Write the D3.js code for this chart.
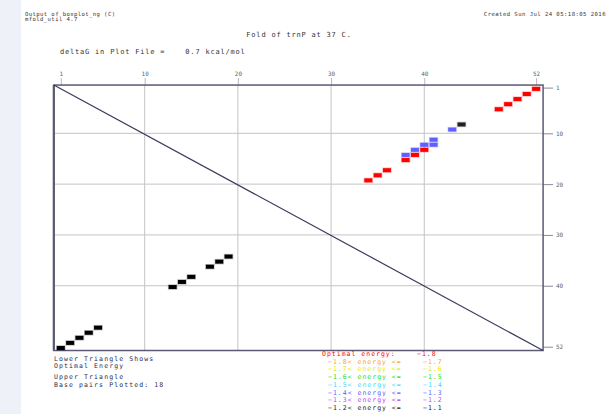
<!DOCTYPE html>
<html>
<head>
<meta charset="utf-8">
<script src="https://cdn.jsdelivr.net/npm/d3@7"></script>
<style>
  html, body { margin: 0; padding: 0; background: #ffffff; }
  svg { display: block; }
  text { font-family: "DejaVu Sans Mono", "Liberation Mono", monospace; }
</style>
</head>
<body>
<svg id="plot" width="610" height="414"></svg>
<script>
// Energy dot plot of trnP (52 nt)
const seqLength = 52;
const xTickValues = [1, 10, 20, 30, 40, 52];
const yTickValues = [1, 10, 20, 30, 40, 52];
const gridValues = [10, 20, 30, 40];

// Lower triangle: optimal structure base pairs (i, j)
const optI = [1, 2, 3, 4, 5, 13, 14, 15, 17, 18, 19];
const optJ = [52, 51, 50, 49, 48, 40, 39, 38, 36, 35, 34];

// Upper triangle: all base pairs within the energy increment, with their best energy
const subI = [1, 2, 3, 4, 5, 8, 9, 11, 12, 12, 13, 13, 14, 14, 15, 17, 18, 19];
const subJ = [52, 51, 50, 49, 48, 44, 43, 41, 41, 40, 40, 39, 39, 38, 38, 36, 35, 34];
const subEnergy = [-1.8, -1.8, -1.8, -1.8, -1.8, -1.1, -1.3, -1.3, -1.3, -1.3, -1.8, -1.3, -1.8, -1.3, -1.8, -1.8, -1.8, -1.8];

// Energy legend
const levelBounds = [-1.8, -1.7, -1.6, -1.5, -1.4, -1.3, -1.2, -1.1];
const levelColors = ["#ff0000", "#ffa020", "#e8e800", "#20e020", "#40d8ff", "#6060ff", "#c040ff", "#222222"];

const headerLeft = ["Output of boxplot_ng (C)", "mfold_util 4.7"];
const headerRight = "Created Sun Jul 24 05:18:05 2016";
const titleText = "Fold of trnP at 37 C.";
const deltaText = "deltaG in Plot File =    0.7 kcal/mol";
const noteLines = ["Lower Triangle Shows", "Optimal Energy", "Upper Triangle", "Base pairs Plotted: 18"];

const svg = d3.select("#plot");

// side band
svg.append("rect").attr("x", 0).attr("y", 0).attr("width", 21).attr("height", 414).attr("fill", "#eef1f8");

const x = d3.scaleLinear().domain([1, seqLength]).range([60.8, 536.1]);
const y = d3.scaleLinear().domain([1, seqLength]).range([87.6, 346.7]);
const fx0 = x(0.25), fx1 = x(52.75), fy0 = y(0.5), fy1 = y(52.75);

// header texts
svg.selectAll("text.hl").data(headerLeft).join("text")
  .attr("class", "hl")
  .attr("x", 25).attr("y", (d, i) => 16 + i * 5)
  .attr("font-size", 5.6).attr("letter-spacing", 0.4).attr("fill", "#333")
  .text(d => d);
svg.append("text").attr("x", 606).attr("y", 16).attr("text-anchor", "end")
  .attr("font-size", 5.6).attr("letter-spacing", 0.45).attr("fill", "#333").text(headerRight);
svg.append("text").attr("x", 299).attr("y", 37).attr("text-anchor", "middle")
  .attr("font-size", 7).attr("letter-spacing", 0.8).attr("fill", "#333").text(titleText);
svg.append("text").attr("x", 60).attr("y", 54)
  .attr("font-size", 7).attr("letter-spacing", 0.8).attr("fill", "#333")
  .attr("xml:space", "preserve").style("white-space", "pre").text(deltaText);

// grid lines inside the frame
const grid = svg.append("g").attr("stroke", "#c4c4c8").attr("stroke-width", 1);
grid.selectAll("line.gx").data(gridValues).join("line")
  .attr("x1", d => x(d)).attr("x2", d => x(d)).attr("y1", fy0).attr("y2", fy1);
grid.selectAll("line.gy").data(gridValues).join("line")
  .attr("y1", d => y(d)).attr("y2", d => y(d)).attr("x1", fx0).attr("x2", fx1);

// top axis
const topAxis = d3.axisTop(x).tickValues(xTickValues).tickSize(fy0 - 78).tickFormat(d3.format("d"));
const gTop = svg.append("g").attr("transform", `translate(0,${fy0})`).call(topAxis);
gTop.select(".domain").remove();
gTop.selectAll("line").attr("stroke", "#b8b8c0");
gTop.selectAll("text").attr("font-size", 6).attr("fill", "#666").attr("dy", 0).attr("y", -9)
  .attr("font-family", "DejaVu Sans Mono, monospace");

// right axis
const rightAxis = d3.axisRight(y).tickValues(yTickValues).tickSize(553 - fx1).tickPadding(3).tickFormat(d3.format("d"));
const gRight = svg.append("g").attr("transform", `translate(${fx1},0)`).call(rightAxis);
gRight.select(".domain").remove();
gRight.selectAll("line").attr("stroke", "#8a8a9a");
gRight.selectAll("text").attr("font-size", 6).attr("fill", "#666")
  .attr("font-family", "DejaVu Sans Mono, monospace");

// frame
svg.append("rect").attr("x", fx0).attr("y", fy0).attr("width", fx1 - fx0).attr("height", fy1 - fy0)
  .attr("fill", "none").attr("stroke", "#5a5a74").attr("stroke-width", 1.5);
svg.append("line").attr("x1", fx0).attr("x2", fx0).attr("y1", fy0).attr("y2", fy1)
  .attr("stroke", "#5a5a74").attr("stroke-width", 2.2);

// diagonal
svg.append("line").attr("x1", fx0).attr("y1", fy0).attr("x2", fx1).attr("y2", fy1)
  .attr("stroke", "#3a3a5c").attr("stroke-width", 1.2);

const dotW = 8, dotH = 4;
function levelOf(e) { return Math.max(0, Math.round((e - levelBounds[0]) * 10)); }

// upper triangle dots: column j, row i
svg.append("g").selectAll("rect").data(subI.map((v, k) => ({ i: v, j: subJ[k], e: subEnergy[k] }))).join("rect")
  .attr("x", d => x(d.j) - dotW / 2).attr("y", d => y(d.i) - 0.7)
  .attr("width", dotW).attr("height", dotH)
  .attr("fill", d => levelColors[levelOf(d.e)])
  .attr("stroke", d => levelColors[levelOf(d.e)]).attr("stroke-opacity", 0.25).attr("stroke-width", 1.5);

// lower triangle dots: column i, row j
svg.append("g").selectAll("rect").data(optI.map((v, k) => ({ i: v, j: optJ[k] }))).join("rect")
  .attr("x", d => x(d.i) - dotW / 2).attr("y", d => y(d.j) - 0.7)
  .attr("width", dotW).attr("height", dotH)
  .attr("fill", "#000").attr("stroke", "#000").attr("stroke-opacity", 0.25).attr("stroke-width", 1.5);

// notes below the plot
svg.selectAll("text.note").data(noteLines).join("text")
  .attr("class", "note")
  .attr("x", 54).attr("y", (d, i) => [361, 368, 379, 386.5][i])
  .attr("font-size", 6.5).attr("letter-spacing", 1.1).attr("fill", "#2c2c4c")
  .text(d => d);

// energy legend
const fmt = d3.format(".1f");
const legendRows = levelBounds.map((b, k) => ({
  label: k === 0 ? "Optimal energy:" : `${fmt(levelBounds[k - 1])}< energy <=`,
  value: fmt(b),
  color: levelColors[k],
  k
}));
const lg = svg.append("g");
lg.selectAll("text.ll").data(legendRows).join("text")
  .attr("class", "ll")
  .attr("x", d => d.k === 0 ? 322 : 328)
  .attr("y", d => 356 + d.k * 7.7)
  .attr("font-size", 6.5).attr("letter-spacing", 1).attr("fill", d => d.color)
  .text(d => d.label);
lg.selectAll("text.lv").data(legendRows).join("text")
  .attr("class", "lv")
  .attr("x", d => d.k === 0 ? 417 : 423)
  .attr("y", d => 356 + d.k * 7.7)
  .attr("font-size", 6.5).attr("letter-spacing", 1).attr("fill", d => d.color)
  .text(d => d.value);
</script>
</body>
</html>
